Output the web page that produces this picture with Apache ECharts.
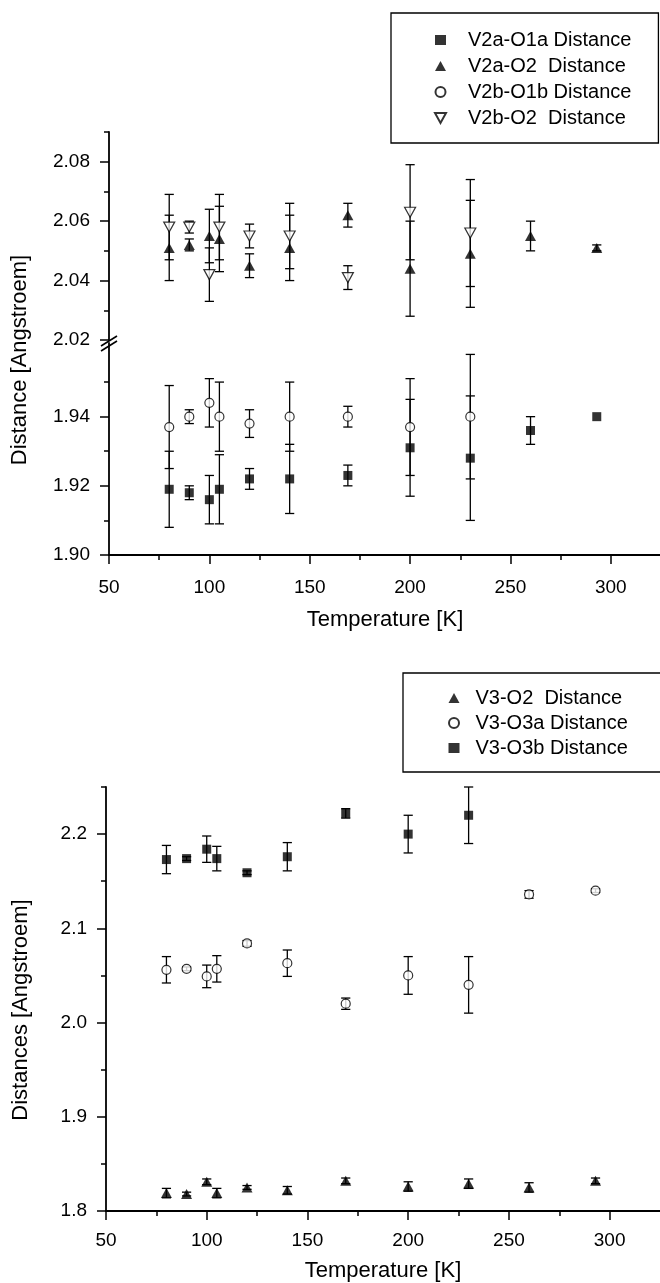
<!DOCTYPE html>
<html><head><meta charset="utf-8">
<script src="https://cdn.jsdelivr.net/npm/echarts@6/dist/echarts.min.js"></script>
<style>html,body{margin:0;padding:0;background:#fff}#c{width:660px;height:1283px}</style>
</head><body><div id="c"></div><script>
// ---------- data ----------
const tempsFull = [80, 90, 100, 105, 120, 140, 169, 200, 230, 260, 293];
const tempsShort = [80, 90, 100, 105, 120, 140, 169, 200, 230];

// top panel
const v2aO1a    = [1.919, 1.918, 1.916, 1.919, 1.922, 1.922, 1.923, 1.931, 1.928, 1.936, 1.940];
const v2aO1aErr = [0.011, 0.002, 0.007, 0.010, 0.003, 0.010, 0.003, 0.014, 0.018, 0.004, 0.000];
const v2aO2     = [2.051, 2.052, 2.055, 2.054, 2.045, 2.051, 2.062, 2.044, 2.049, 2.055, 2.051];
const v2aO2Err  = [0.011, 0.002, 0.009, 0.011, 0.004, 0.011, 0.004, 0.016, 0.018, 0.005, 0.001];
const v2bO1b    = [1.937, 1.940, 1.944, 1.940, 1.938, 1.940, 1.940, 1.937, 1.940];
const v2bO1bErr = [0.012, 0.002, 0.007, 0.010, 0.004, 0.010, 0.003, 0.014, 0.018];
const v2bO2     = [2.058, 2.058, 2.042, 2.058, 2.055, 2.055, 2.041, 2.063, 2.056];
const v2bO2Err  = [0.011, 0.002, 0.009, 0.011, 0.004, 0.011, 0.004, 0.016, 0.018];

// bottom panel
const v3O2      = [1.819, 1.818, 1.831, 1.819, 1.825, 1.822, 1.832, 1.826, 1.829, 1.825, 1.832];
const v3O2Err   = [0.005, 0.002, 0.003, 0.005, 0.002, 0.004, 0.003, 0.005, 0.005, 0.005, 0.003];
const v3O3a     = [2.056, 2.057, 2.049, 2.057, 2.084, 2.063, 2.020, 2.050, 2.040, 2.136, 2.140];
const v3O3aErr  = [0.014, 0.002, 0.012, 0.014, 0.003, 0.014, 0.006, 0.020, 0.030, 0.004, 0.002];
const v3O3b     = [2.173, 2.174, 2.184, 2.174, 2.159, 2.176, 2.222, 2.200, 2.220];
const v3O3bErr  = [0.015, 0.002, 0.014, 0.013, 0.002, 0.015, 0.005, 0.020, 0.030];

// axis ticks
const xMajor = [50, 100, 150, 200, 250, 300];
const xMinor = [75, 125, 175, 225, 275];
const yTopUpperMajor = [2.02, 2.04, 2.06, 2.08];
const yTopUpperMinor = [2.03, 2.05, 2.07, 2.09];
const yTopLowerMajor = [1.90, 1.92, 1.94];
const yTopLowerMinor = [1.91, 1.93, 1.95];
const yBotMajor = [1.8, 1.9, 2.0, 2.1, 2.2];
const yBotMinor = [1.85, 1.95, 2.05, 2.15, 2.25];

const names = {
  a1: 'V2a-O1a Distance', a2: 'V2a-O2  Distance', b1: 'V2b-O1b Distance', b2: 'V2b-O2  Distance',
  c2: 'V3-O2  Distance', c3a: 'V3-O3a Distance', c3b: 'V3-O3b Distance'
};

// ---------- helpers ----------
const FONT = "'Liberation Sans', Arial, Helvetica, sans-serif";
const pts = (xs, ys) => xs.map((x, i) => [x, ys[i]]);
const errPts = (xs, ys, es) => xs.map((x, i) => [x, ys[i], es[i]]);

function errRender(params, api) {
  const x = api.value(0), y = api.value(1), e = api.value(2);
  if (!e) return { type: 'group', children: [] };
  const p1 = api.coord([x, y + e]), p2 = api.coord([x, y - e]);
  const hw = 4.6, st = { stroke: '#000', lineWidth: 1.3 };
  return { type: 'group', children: [
    { type: 'line', shape: { x1: p1[0], y1: p1[1], x2: p2[0], y2: p2[1] }, style: st },
    { type: 'line', shape: { x1: p1[0] - hw, y1: p1[1], x2: p1[0] + hw, y2: p1[1] }, style: st },
    { type: 'line', shape: { x1: p2[0] - hw, y1: p2[1], x2: p2[0] + hw, y2: p2[1] }, style: st }
  ]};
}
function errSeries(id, xs, ys, es, xi, yi) {
  return { type: 'custom', name: id, renderItem: errRender, data: errPts(xs, ys, es),
    encode: { x: 0, y: 1 }, xAxisIndex: xi, yAxisIndex: yi, z: 1, silent: true, clip: false };
}
const filled = { color: '#000' };
const hollow = { color: '#fff', borderColor: '#000', borderWidth: 1.2 };
function scat(name, xs, ys, xi, yi, symbol, size, style, rot) {
  return { type: 'scatter', name, data: pts(xs, ys), xAxisIndex: xi, yAxisIndex: yi,
    symbol, symbolSize: size, symbolRotate: rot || 0, itemStyle: style, z: 3, silent: true };
}
function majorY(grid, min, max, vals, dec) {
  return { type: 'value', gridIndex: grid, min, max, position: 'left', splitLine: { show: false },
    axisLine: { show: true, onZero: false, lineStyle: { color: '#000', width: 1.8 } },
    axisTick: { show: true, length: 9, customValues: vals, lineStyle: { color: '#000', width: 1.5 } },
    axisLabel: { customValues: vals, formatter: v => Number(v).toFixed(dec), fontSize: 19, color: '#000', fontFamily: FONT, margin: 19 } };
}
function minorY(grid, min, max, vals) {
  return { type: 'value', gridIndex: grid, min, max, position: 'left', splitLine: { show: false },
    axisLine: { show: false },
    axisTick: { show: true, length: 5, customValues: vals, lineStyle: { color: '#000', width: 1.5 } },
    axisLabel: { show: false } };
}
function majorX(grid, nameGap, labelMargin) {
  return { type: 'value', gridIndex: grid, min: 50, max: 325, position: 'bottom', splitLine: { show: false },
    axisLine: { show: true, onZero: false, lineStyle: { color: '#000', width: 1.8 } },
    axisTick: { show: true, length: 9, customValues: xMajor, lineStyle: { color: '#000', width: 1.5 } },
    axisLabel: { customValues: xMajor, fontSize: 19, color: '#000', fontFamily: FONT, margin: labelMargin },
    name: 'Temperature [K]', nameLocation: 'middle', nameGap,
    nameTextStyle: { fontSize: 22, color: '#000', fontFamily: FONT } };
}
function minorX(grid) {
  return { type: 'value', gridIndex: grid, min: 50, max: 325, position: 'bottom', splitLine: { show: false },
    axisLine: { show: false },
    axisTick: { show: true, length: 5, customValues: xMinor, lineStyle: { color: '#000', width: 1.5 } },
    axisLabel: { show: false } };
}

const chart = echarts.init(document.getElementById('c'), null, { renderer: 'canvas' });
const option = {
  animation: false,
  backgroundColor: '#fff',
  grid: [
    { left: 109, top: 132, width: 552, height: 208, outerBoundsMode: 'none' },
    { left: 109, top: 343, width: 552, height: 212, outerBoundsMode: 'none' },
    { left: 106, top: 787, width: 554, height: 424, outerBoundsMode: 'none' }
  ],
  xAxis: [
    { type: 'value', gridIndex: 0, min: 50, max: 325, show: false },
    majorX(1, 54, 23),
    minorX(1),
    majorX(2, 49, 20),
    minorX(2)
  ],
  yAxis: [
    majorY(0, 2.02, 2.09, yTopUpperMajor, 2),
    minorY(0, 2.02, 2.09, yTopUpperMinor),
    majorY(1, 1.90, 1.9613, yTopLowerMajor, 2),
    minorY(1, 1.90, 1.9613, yTopLowerMinor),
    majorY(2, 1.8, 2.25, yBotMajor, 1),
    minorY(2, 1.8, 2.25, yBotMinor)
  ],
  legend: [
    { data: [names.a1, names.a2, names.b1, { name: names.b2, icon: 'path://M0,0L11,0L5.5,10Z' }],
      orient: 'vertical', left: 391, top: 13,
      itemWidth: 11, itemHeight: 10, itemGap: 6, padding: [17, 27, 15, 43],
      borderColor: '#000', borderWidth: 1.3, selectedMode: false,
      textStyle: { fontSize: 20, color: '#000', fontFamily: FONT, padding: [0, 0, 0, 17] } },
    { data: [names.c2, names.c3a, names.c3b], orient: 'vertical', left: 403, top: 673,
      itemWidth: 11, itemHeight: 10, itemGap: 5, padding: [15, 33, 14, 45],
      borderColor: '#000', borderWidth: 1.3, selectedMode: false,
      textStyle: { fontSize: 20, color: '#000', fontFamily: FONT, padding: [0, 0, 0, 11] } }
  ],
  graphic: [
    { type: 'text', x: 20, y: 360, rotation: Math.PI / 2,
      style: { text: 'Distance [Angstroem]', font: '22px ' + FONT, fill: '#000', textAlign: 'center', textVerticalAlign: 'middle' } },
    { type: 'text', x: 21, y: 1010, rotation: Math.PI / 2,
      style: { text: 'Distances [Angstroem]', font: '22px ' + FONT, fill: '#000', textAlign: 'center', textVerticalAlign: 'middle' } },
    { type: 'line', shape: { x1: 101, y1: 346, x2: 117, y2: 336 }, style: { stroke: '#000', lineWidth: 1.6 } },
    { type: 'line', shape: { x1: 101, y1: 351, x2: 117, y2: 341 }, style: { stroke: '#000', lineWidth: 1.6 } }
  ],
  series: [
    errSeries('_e1', tempsFull, v2aO1a, v2aO1aErr, 1, 2),
    errSeries('_e2', tempsShort, v2bO1b, v2bO1bErr, 1, 2),
    errSeries('_e3', tempsFull, v2aO2, v2aO2Err, 0, 0),
    errSeries('_e4', tempsShort, v2bO2, v2bO2Err, 0, 0),
    errSeries('_e5', tempsFull, v3O2, v3O2Err, 3, 4),
    errSeries('_e6', tempsFull, v3O3a, v3O3aErr, 3, 4),
    errSeries('_e7', tempsShort, v3O3b, v3O3bErr, 3, 4),
    scat(names.a1, tempsFull, v2aO1a, 1, 2, 'rect', 9, filled),
    scat(names.a2, tempsFull, v2aO2, 0, 0, 'triangle', [11, 10], filled),
    scat(names.b1, tempsShort, v2bO1b, 1, 2, 'circle', 9, hollow),
    scat(names.b2, tempsShort, v2bO2, 0, 0, 'triangle', [11, 10], hollow, 180),
    scat(names.c2, tempsFull, v3O2, 3, 4, 'triangle', [11, 10], filled),
    scat(names.c3a, tempsFull, v3O3a, 3, 4, 'circle', 9, hollow),
    scat(names.c3b, tempsShort, v3O3b, 3, 4, 'rect', 9, filled)
  ]
};
chart.setOption(option);
</script></body></html>
